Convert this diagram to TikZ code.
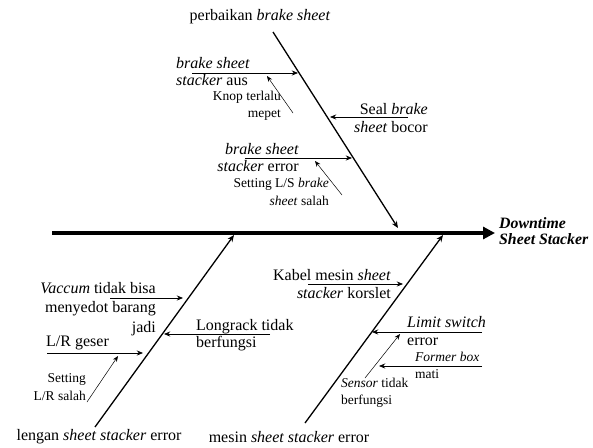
\documentclass[tikz,border=0pt]{standalone}
\usepackage{fontspec}
\setmainfont{Liberation Serif}
\usetikzlibrary{arrows.meta}
\tikzset{
  spine/.style={-{Triangle[length=4.2mm,width=4.2mm]}, line width=3.6pt},
  bone/.style ={-{Stealth[length=2.4mm,width=2mm]}, line width=1.3pt},
  cause/.style={-{Stealth[length=2.2mm,width=1.8mm]}, line width=0.8pt},
  sub/.style  ={-{Stealth[length=2mm,width=1.6mm]}, line width=0.5pt},
  lbl/.style  ={inner sep=0pt, font=\fontsize{16}{17.5}\selectfont},
  sml/.style  ={inner sep=0pt, font=\fontsize{13.5}{17.5}\selectfont},
  hd/.style   ={inner sep=0pt, align=left, font=\fontsize{15.8}{16.5}\selectfont\bfseries\itshape},
}
\begin{document}
\begin{tikzpicture}[x=1pt, y=-1pt]
  \useasboundingbox (0,0) rectangle (593,447);
  % spine and the three bones
  \coordinate (sp0) at (52,233);  \coordinate (sp1) at (495,233);
  \coordinate (tb0) at (273,32);  \coordinate (tb1) at (398,228);
  \coordinate (lb0) at (95,427);  \coordinate (lb1) at (234,235);
  \coordinate (rb0) at (305,423); \coordinate (rb1) at (443,235);
  \draw[spine] (sp0) -- (sp1);
  \draw[bone] (tb0) -- (tb1); \draw[bone] (lb0) -- (lb1); \draw[bone] (rb0) -- (rb1);
  \node[hd, anchor=west] (dt) at (499,231) {Downtime\\Sheet Stacker};

  % top bone
  \node[lbl] (perb) at (260,17) {perbaikan \textit{brake sheet}};
  \node[lbl, anchor=west, align=left] (bsa) at (176,71.5) {\textit{brake sheet}\\\textit{stacker} aus};
  \coordinate (a1s) at (192,73); \coordinate (a1e) at (298,73);
  \draw[cause] (a1s) -- (a1e);
  \node[sml, anchor=east, align=right] (knop) at (281,106) {Knop terlalu\\mepet};
  \coordinate (k0) at (293,113); \coordinate (k1) at (267,76);
  \draw[sub] (k0) -- (k1);
  \node[lbl, anchor=east, align=right] (seal) at (428,118) {Seal \textit{brake}\\\textit{sheet} bocor};
  \coordinate (a2s) at (408,117); \coordinate (a2e) at (330,117);
  \draw[cause] (a2s) -- (a2e);
  \node[lbl, anchor=east, align=right] (bse) at (299,157.5) {\textit{brake sheet}\\\textit{stacker} error};
  \coordinate (a3s) at (245,158); \coordinate (a3e) at (352,158);
  \draw[cause] (a3s) -- (a3e);
  \node[sml, anchor=east, align=right] (setls) at (329,192) {Setting L/S \textit{brake}\\\textit{sheet} salah};
  \coordinate (s3s) at (342,195); \coordinate (s3e) at (315,161);
  \draw[sub] (s3s) -- (s3e);

  % lower left bone
  \node[lbl, anchor=east, align=right, font=\fontsize{16}{19.5}\selectfont] (vac) at (156,309) {\textit{Vaccum} tidak bisa\\menyedot barang\\jadi};
  \coordinate (a4s) at (110,298); \coordinate (a4e) at (183,298);
  \draw[cause] (a4s) -- (a4e);
  \node[lbl, anchor=west, align=left] (longr) at (196,335) {Longrack tidak\\berfungsi};
  \coordinate (a5s) at (270,334); \coordinate (a5e) at (164,334);
  \draw[cause] (a5s) -- (a5e);
  \node[lbl, anchor=west] (lrg) at (46,343) {L/R geser};
  \coordinate (a6s) at (47,353); \coordinate (a6e) at (143,353);
  \draw[cause] (a6s) -- (a6e);
  \node[sml, anchor=east, align=right] (setlr) at (86,387) {Setting\\L/R salah};
  \coordinate (s6s) at (87,402); \coordinate (s6e) at (118,356);
  \draw[sub] (s6s) -- (s6e);
  \node[lbl] (lengan) at (99,437) {lengan \textit{sheet stacker} error};

  % lower right bone
  \node[lbl, anchor=east, align=right] (kabel) at (391,284) {Kabel mesin \textit{sheet}\\\textit{stacker} korslet};
  \coordinate (a7s) at (308,284); \coordinate (a7e) at (403,284);
  \draw[cause] (a7s) -- (a7e);
  \node[lbl, anchor=west, align=left] (limit) at (407,331) {\textit{Limit switch}\\error};
  \coordinate (a8s) at (482,332); \coordinate (a8e) at (372,332);
  \draw[cause] (a8s) -- (a8e);
  \node[sml, anchor=west, align=left] (former) at (415,365.5) {\textit{Former box}\\mati};
  \coordinate (a9s) at (482,366); \coordinate (a9e) at (379,366);
  \draw[cause] (a9s) -- (a9e);
  \node[sml, anchor=west, align=left] (sensor) at (341,393) {\textit{Sensor} tidak\\berfungsi};
  \coordinate (s8s) at (365,378); \coordinate (s8e) at (400,334);
  \draw[sub] (s8s) -- (s8e);
  \node[lbl] (mesin) at (289,437) {mesin \textit{sheet stacker} error};
\end{tikzpicture}
\end{document}
